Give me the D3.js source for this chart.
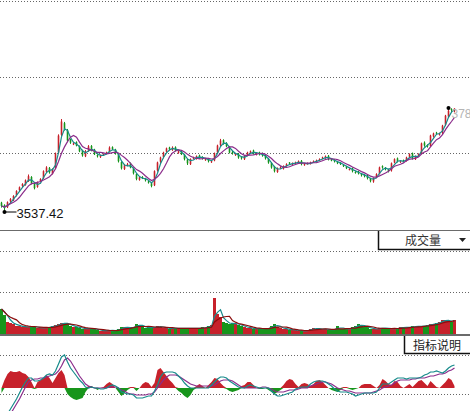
<!DOCTYPE html>
<html>
<head>
  <meta charset="utf-8">
  <title>指数走势</title>
  <style>
    body {
      margin: 0;
      padding: 0;
      background-color: #fff;
      font-family: "Liberation Sans", Arial, sans-serif;
    }

    #chart {
      width: 470px;
      height: 411px;
      overflow: hidden;
    }

    .cn {
      font-family: "Noto Sans CJK SC", sans-serif;
    }
  </style>
</head>
<body>
  <div id="chart"></div>

  <script src="https://d3js.org/d3.v7.min.js"></script>
  <script>
    // daily candles
    var opens = [
      3560, 3554, 3549, 3563, 3566, 3578, 3590, 3600, 3603, 3612,
      3622, 3606, 3598, 3612, 3619, 3634, 3644, 3630, 3643, 3681,
      3724, 3752, 3735, 3712, 3701, 3706, 3696, 3686, 3672, 3686,
      3697, 3688, 3675, 3670, 3676, 3679, 3683, 3694, 3688, 3677,
      3658, 3641, 3651, 3655, 3643, 3629, 3615, 3622, 3618, 3611,
      3607, 3602, 3638, 3659, 3670, 3683, 3693, 3687, 3694, 3680,
      3685, 3676, 3664, 3653, 3667, 3667, 3674, 3670, 3663, 3666,
      3658, 3662, 3681, 3699, 3711, 3704, 3695, 3683, 3675, 3678,
      3670, 3665, 3674, 3680, 3686, 3676, 3681, 3679, 3675, 3666,
      3656, 3647, 3634, 3645, 3642, 3649, 3657, 3652, 3655, 3656,
      3661, 3651, 3655, 3654, 3658, 3659, 3663, 3667, 3668, 3673,
      3664, 3663, 3658, 3656, 3651, 3647, 3640, 3643, 3634, 3635,
      3629, 3627, 3625, 3618, 3611, 3621, 3630, 3648, 3644, 3640,
      3638, 3657, 3667, 3658, 3662, 3661, 3671, 3679, 3665, 3674,
      3679, 3705, 3699, 3697, 3720, 3729, 3724, 3729, 3748, 3768,
      3786, 3781
    ];
    var highs = [
      3562, 3556, 3563, 3571, 3578, 3590, 3599, 3607, 3616, 3628,
      3624, 3608, 3611, 3619, 3638, 3648, 3646, 3643, 3681, 3725,
      3762, 3755, 3738, 3714, 3706, 3708, 3698, 3688, 3687, 3699,
      3699, 3690, 3677, 3676, 3679, 3683, 3696, 3696, 3690, 3679,
      3660, 3653, 3656, 3657, 3645, 3631, 3624, 3624, 3620, 3613,
      3609, 3638, 3659, 3671, 3683, 3693, 3695, 3696, 3696, 3686,
      3687, 3678, 3666, 3667, 3671, 3674, 3676, 3672, 3667, 3668,
      3662, 3681, 3700, 3714, 3713, 3706, 3697, 3685, 3679, 3680,
      3672, 3674, 3683, 3686, 3688, 3681, 3683, 3681, 3677, 3668,
      3658, 3649, 3645, 3648, 3650, 3655, 3658, 3657, 3659, 3662,
      3663, 3655, 3657, 3659, 3662, 3664, 3667, 3671, 3674, 3675,
      3666, 3665, 3660, 3658, 3653, 3649, 3643, 3645, 3636, 3637,
      3631, 3629, 3627, 3620, 3621, 3631, 3647, 3650, 3646, 3642,
      3657, 3667, 3669, 3662, 3664, 3671, 3679, 3681, 3674, 3679,
      3705, 3708, 3701, 3724, 3729, 3731, 3729, 3748, 3772, 3788.62,
      3788, 3788
    ];
    var lows = [
      3548, 3537.42, 3547, 3559, 3564, 3575, 3587, 3597, 3601, 3610,
      3604, 3592, 3596, 3609, 3617, 3632, 3630, 3628, 3641, 3678,
      3720, 3734, 3706, 3702, 3699, 3696, 3682, 3671, 3670, 3683,
      3684, 3675, 3669, 3668, 3673, 3677, 3681, 3687, 3676, 3657,
      3640, 3639, 3648, 3643, 3628, 3614, 3613, 3617, 3611, 3606,
      3597, 3600, 3635, 3656, 3667, 3681, 3686, 3685, 3684, 3678,
      3675, 3662, 3651, 3651, 3665, 3664, 3666, 3664, 3661, 3657,
      3656, 3660, 3679, 3696, 3700, 3694, 3679, 3676, 3673, 3666,
      3664, 3663, 3672, 3678, 3676, 3674, 3674, 3671, 3664, 3654,
      3642, 3633, 3632, 3642, 3640, 3647, 3653, 3650, 3653, 3654,
      3650, 3649, 3652, 3652, 3656, 3657, 3661, 3665, 3666, 3662,
      3660, 3657, 3653, 3651, 3646, 3641, 3638, 3633, 3630, 3628,
      3623, 3621, 3616, 3609, 3608, 3619, 3628, 3642, 3638, 3633,
      3635, 3655, 3657, 3656, 3657, 3659, 3669, 3664, 3663, 3671,
      3677, 3695, 3693, 3695, 3717, 3724, 3722, 3726, 3745, 3765,
      3779, 3778
    ];
    var closes = [
      3552, 3547, 3561, 3569, 3576, 3588, 3597, 3605, 3614, 3624,
      3607, 3595, 3609, 3617, 3636, 3645, 3633, 3641, 3679, 3722,
      3756, 3737, 3710, 3705, 3703, 3698, 3684, 3674, 3684, 3696,
      3686, 3677, 3672, 3674, 3677, 3681, 3693, 3689, 3679, 3660,
      3643, 3650, 3653, 3645, 3631, 3617, 3621, 3619, 3614, 3609,
      3600, 3636, 3657, 3669, 3681, 3691, 3689, 3693, 3686, 3684,
      3677, 3665, 3655, 3665, 3669, 3672, 3669, 3667, 3665, 3660,
      3660, 3679, 3698, 3710, 3703, 3696, 3681, 3679, 3677, 3669,
      3667, 3672, 3681, 3684, 3679, 3679, 3677, 3674, 3667, 3657,
      3645, 3636, 3643, 3645, 3648, 3653, 3655, 3655, 3657, 3660,
      3653, 3653, 3655, 3657, 3660, 3662, 3665, 3669, 3672, 3665,
      3662, 3660, 3655, 3653, 3648, 3643, 3641, 3636, 3633, 3631,
      3626, 3624, 3619, 3612, 3619, 3629, 3645, 3645, 3641, 3636,
      3655, 3665, 3660, 3660, 3660, 3669, 3677, 3667, 3672, 3677,
      3703, 3698, 3696, 3722, 3727, 3727, 3727, 3746, 3770, 3782,
      3784, 3787
    ];
    // 成交量 (亿)
    var volumes = [
      2500, 1900, 1200, 1100, 1000, 800, 800, 700, 700, 700,
      800, 700, 600, 600, 600, 700, 700, 800, 900, 1000,
      1100, 1100, 1000, 800, 700, 700, 600, 500, 500, 600,
      500, 500, 400, 300, 300, 400, 300, 400, 300, 500,
      700, 700, 600, 600, 700, 1000, 900, 700, 600, 700,
      600, 700, 800, 700, 600, 600, 500, 600, 600, 500,
      600, 600, 500, 600, 600, 500, 600, 700, 600, 800,
      900, 3600, 2000, 1700, 1200, 1100, 1000, 1100, 1000, 900,
      800, 700, 600, 600, 500, 500, 600, 500, 500, 600,
      800, 1000, 700, 600, 500, 500, 400, 400, 400, 300,
      300, 300, 400, 500, 600, 500, 500, 500, 500, 400,
      400, 500, 800, 500, 500, 500, 500, 700, 800, 1000,
      800, 700, 700, 500, 500, 500, 600, 600, 600, 500,
      500, 600, 500, 700, 700, 600, 700, 800, 700, 800,
      800, 800, 900, 1000, 1000, 1100, 1200, 1400, 1400, 1300,
      1200, 1400
    ];
    // MACD: DIF, DEA and the bar value
    var difs = [
      -37, -32, -26, -21, -16, -11, -5, 1, 6, 10,
      10, 7, 7, 8, 10, 13, 14, 13, 17, 24,
      31, 33, 26, 20, 16, 12, 8, 5, 1, 0,
      1, 0, 0, -1, -1, 0, 2, 3, 2, 0,
      -4, -5, -6, -6, -7, -10, -10, -10, -9, -8,
      -8, -3, 3, 11, 15, 16, 16, 16, 15, 12,
      9, 5, 2, 0, 0, 0, 0, 0, 0, 0,
      3, 6, 9, 11, 11, 10, 7, 5, 3, 1,
      0, 0, 2, 3, 2, 1, 0, 0, 0, 0,
      -3, -6, -8, -8, -7, -6, -5, -4, -1, 0,
      1, 1, 1, 4, 6, 7, 7, 7, 6, 4,
      2, -1, -3, -4, -4, -4, -5, -6, -8, -7,
      -6, -5, -5, -5, -5, -4, 0, 4, 4, 4,
      6, 8, 10, 10, 10, 9, 10, 10, 10, 10,
      11, 13, 14, 16, 16, 17, 16, 15, 17, 20,
      22, 23
    ];
    var deas = [
      -40, -36, -31, -26, -21, -16, -11, -5, 1, 6,
      8, 9, 9, 10, 10, 11, 12, 13, 14, 17,
      22, 28, 30, 27, 22, 17, 12, 8, 4, 2,
      1, 0, 0, 0, 0, 0, 1, 1, 1, 0,
      -2, -3, -5, -6, -6, -7, -7, -7, -7, -6,
      -6, -4, 0, 4, 8, 11, 13, 13, 13, 12,
      10, 8, 6, 4, 3, 2, 2, 2, 2, 2,
      2, 3, 5, 7, 8, 8, 8, 7, 5, 3,
      1, 0, 0, 0, 0, 0, 0, 1, 1, 0,
      -1, -3, -4, -4, -4, -3, -2, -2, -2, -1,
      0, 0, 0, 2, 3, 4, 5, 6, 6, 5,
      4, 2, 0, -1, -2, -3, -3, -4, -5, -5,
      -5, -5, -5, -5, -4, -3, -2, 0, 1, 2,
      3, 5, 7, 8, 8, 8, 8, 9, 9, 10,
      10, 10, 11, 12, 12, 13, 14, 14, 15, 17,
      18, 20
    ];
    var macdBars = [
      -5, 8, 14, 17, 16, 16, 17, 15, 14, 11,
      6, -1, 6, 8, 10, 13, 10, 5, 10, 15,
      18, 13, -6, -9, -11, -12, -11, -10, -4, 2,
      2, 0, -2, 0, 1, 4, 6, 4, 0, -4,
      -8, -5, -2, 1, 1, -3, 0, 4, 6, 5,
      1, 5, 18, 20, 16, 12, 8, 5, 1, -3,
      -5, -8, -10, -7, -2, 2, 4, 2, 0, 3,
      6, 10, 9, 5, 2, -1, -3, -4, -3, -2,
      2, 3, 6, 6, 3, 0, -1, -1, 0, -2,
      -4, -6, -4, -2, 3, 7, 9, 8, 4, 1,
      4, 5, 4, 2, 4, 7, 8, 6, 3, 0,
      -2, -3, -4, -2, 1, 1, -1, -2, -1, 0,
      3, 4, 4, 4, 2, 0, 3, 9, 7, 4,
      3, 7, 6, 2, 0, 2, 4, 1, 4, 7,
      8, 5, 2, 7, 4, 1, 0, 3, 6, 10,
      8, 2
    ];
    var maPeriods = [3, 6];

    var red = "#c7212b";
    var green = "#17951b";
    var teal = "#178b8b";
    var purple = "#8b2c8b";
    var darkRed = "#8b0d0d";

    var width = 470, height = 411;
    var n = closes.length;

    var svg = d3.select("#chart")
      .append("svg")
      .attr("width", width)
      .attr("height", height);

    var x = d3.scaleBand()
      .domain(d3.range(n))
      .range([0, 456]);

    function cx(i) { return x(i) + x.bandwidth() / 2; }
    function isUp(i) { return closes[i] >= opens[i]; }

    function movingAvg(values, period) {
      return values.map(function (d, i) {
        return d3.mean(values.slice(Math.max(0, i - period + 1), i + 1));
      });
    }

    // grid lines
    [1, 77, 153, 251, 292, 355, 394].forEach(function (gy) {
      svg.append("line")
        .attr("x1", 0).attr("x2", width)
        .attr("y1", gy + 0.5).attr("y2", gy + 0.5)
        .attr("stroke", "#666")
        .attr("stroke-dasharray", "1,2");
    });

    svg.append("line")
      .attr("x1", 0).attr("x2", width)
      .attr("y1", 230.5).attr("y2", 230.5)
      .attr("stroke", "#6b6b6b");

    // ----- price panel -----
    var y = d3.scaleLinear()
      .domain([d3.min(lows), d3.max(highs)])
      .range([212, 108]);

    var candles = svg.append("g");
    candles.selectAll("line")
      .data(closes)
      .enter()
      .append("line")
      .attr("x1", function (d, i) { return cx(i); })
      .attr("x2", function (d, i) { return cx(i); })
      .attr("y1", function (d, i) { return y(highs[i]); })
      .attr("y2", function (d, i) { return y(lows[i]); })
      .attr("stroke", function (d, i) { return isUp(i) ? red : green; })
      .attr("stroke-width", 1);

    candles.selectAll("rect")
      .data(closes)
      .enter()
      .append("rect")
      .attr("x", function (d, i) { return cx(i) - 0.8; })
      .attr("y", function (d, i) { return y(Math.max(opens[i], closes[i])); })
      .attr("width", 1.6)
      .attr("height", function (d, i) { return Math.max(1, Math.abs(y(opens[i]) - y(closes[i]))); })
      .attr("fill", function (d, i) { return isUp(i) ? red : green; });

    var priceLine = d3.line()
      .x(function (d, i) { return cx(i); })
      .y(function (d) { return y(d); });

    [teal, purple].forEach(function (c, k) {
      svg.append("path")
        .datum(movingAvg(closes, maPeriods[k]))
        .attr("d", priceLine)
        .attr("fill", "none")
        .attr("stroke", c)
        .attr("stroke-width", 1.2);
    });

    // lowest / highest marks
    var fmt = d3.format(".2f");
    var iLow = d3.minIndex(lows);
    var iHigh = d3.maxIndex(highs);

    svg.append("circle")
      .attr("cx", cx(iLow)).attr("cy", y(lows[iLow]))
      .attr("r", 2).attr("fill", "#000");
    svg.append("line")
      .attr("x1", cx(iLow)).attr("x2", cx(iLow) + 12)
      .attr("y1", y(lows[iLow])).attr("y2", y(lows[iLow]))
      .attr("stroke", "#000");
    svg.append("text")
      .attr("x", cx(iLow) + 12)
      .attr("y", y(lows[iLow]) + 6)
      .attr("font-size", 13)
      .attr("fill", "#111")
      .text(fmt(lows[iLow]));

    svg.append("circle")
      .attr("cx", cx(iHigh)).attr("cy", y(highs[iHigh]))
      .attr("r", 2).attr("fill", "#000");
    svg.append("text")
      .attr("x", cx(iHigh) + 3)
      .attr("y", y(highs[iHigh]) + 10)
      .attr("font-size", 12)
      .attr("fill", "#b4b4b4")
      .text(fmt(highs[iHigh]));

    // ----- volume panel -----
    var yVol = d3.scaleLinear()
      .domain([0, d3.max(volumes)])
      .range([334, 298]);

    svg.append("g").selectAll("rect")
      .data(volumes)
      .enter()
      .append("rect")
      .attr("x", function (d, i) { return x(i); })
      .attr("y", function (d) { return yVol(d); })
      .attr("width", x.bandwidth())
      .attr("height", function (d) { return 334 - yVol(d); })
      .attr("fill", function (d, i) { return isUp(i) ? red : green; });

    var volLine = d3.line()
      .x(function (d, i) { return cx(i); })
      .y(function (d) { return yVol(d); });

    [teal, darkRed].forEach(function (c, k) {
      svg.append("path")
        .datum(movingAvg(volumes, maPeriods[k]))
        .attr("d", volLine)
        .attr("fill", "none")
        .attr("stroke", c)
        .attr("stroke-width", 1.2);
    });

    svg.append("line")
      .attr("x1", 0).attr("x2", width)
      .attr("y1", 335).attr("y2", 335)
      .attr("stroke", "#6b6b6b")
      .attr("stroke-width", 2);

    // 成交量 box
    svg.append("path")
      .attr("d", "M378.5,231V249.5H470")
      .attr("fill", "none")
      .attr("stroke", "#111")
      .attr("stroke-width", 1.5);
    svg.append("text")
      .attr("class", "cn")
      .attr("x", 423).attr("y", 245)
      .attr("text-anchor", "middle")
      .attr("font-size", 12)
      .attr("fill", "#333")
      .text("成交量");
    svg.append("path")
      .attr("d", "M459,238H466L462.5,242Z")
      .attr("fill", "#222");

    // ----- MACD panel -----
    var yMacd = d3.scaleLinear()
      .domain([-20, 30])
      .range([408, 358]);

    var upArea = d3.area()
      .x(function (d, i) { return cx(i); })
      .y0(yMacd(0))
      .y1(function (d) { return yMacd(Math.max(d, 0)); });
    var downArea = d3.area()
      .x(function (d, i) { return cx(i); })
      .y0(yMacd(0))
      .y1(function (d) { return yMacd(Math.min(d, 0)); });

    svg.append("path").datum(macdBars).attr("d", upArea).attr("fill", red);
    svg.append("path").datum(macdBars).attr("d", downArea).attr("fill", green);

    var macdLine = d3.line()
      .x(function (d, i) { return cx(i); })
      .y(function (d) { return yMacd(d); });

    svg.append("path")
      .datum(deas)
      .attr("d", macdLine)
      .attr("fill", "none")
      .attr("stroke", purple)
      .attr("stroke-width", 1.2);
    svg.append("path")
      .datum(difs)
      .attr("d", macdLine)
      .attr("fill", "none")
      .attr("stroke", teal)
      .attr("stroke-width", 1.2);

    // 指标说明 box
    svg.append("path")
      .attr("d", "M404.5,336V353.5H470")
      .attr("fill", "none")
      .attr("stroke", "#111")
      .attr("stroke-width", 1.5);
    svg.append("text")
      .attr("class", "cn")
      .attr("x", 437).attr("y", 350)
      .attr("text-anchor", "middle")
      .attr("font-size", 12)
      .attr("fill", "#222")
      .text("指标说明");
  </script>
</body>
</html>
